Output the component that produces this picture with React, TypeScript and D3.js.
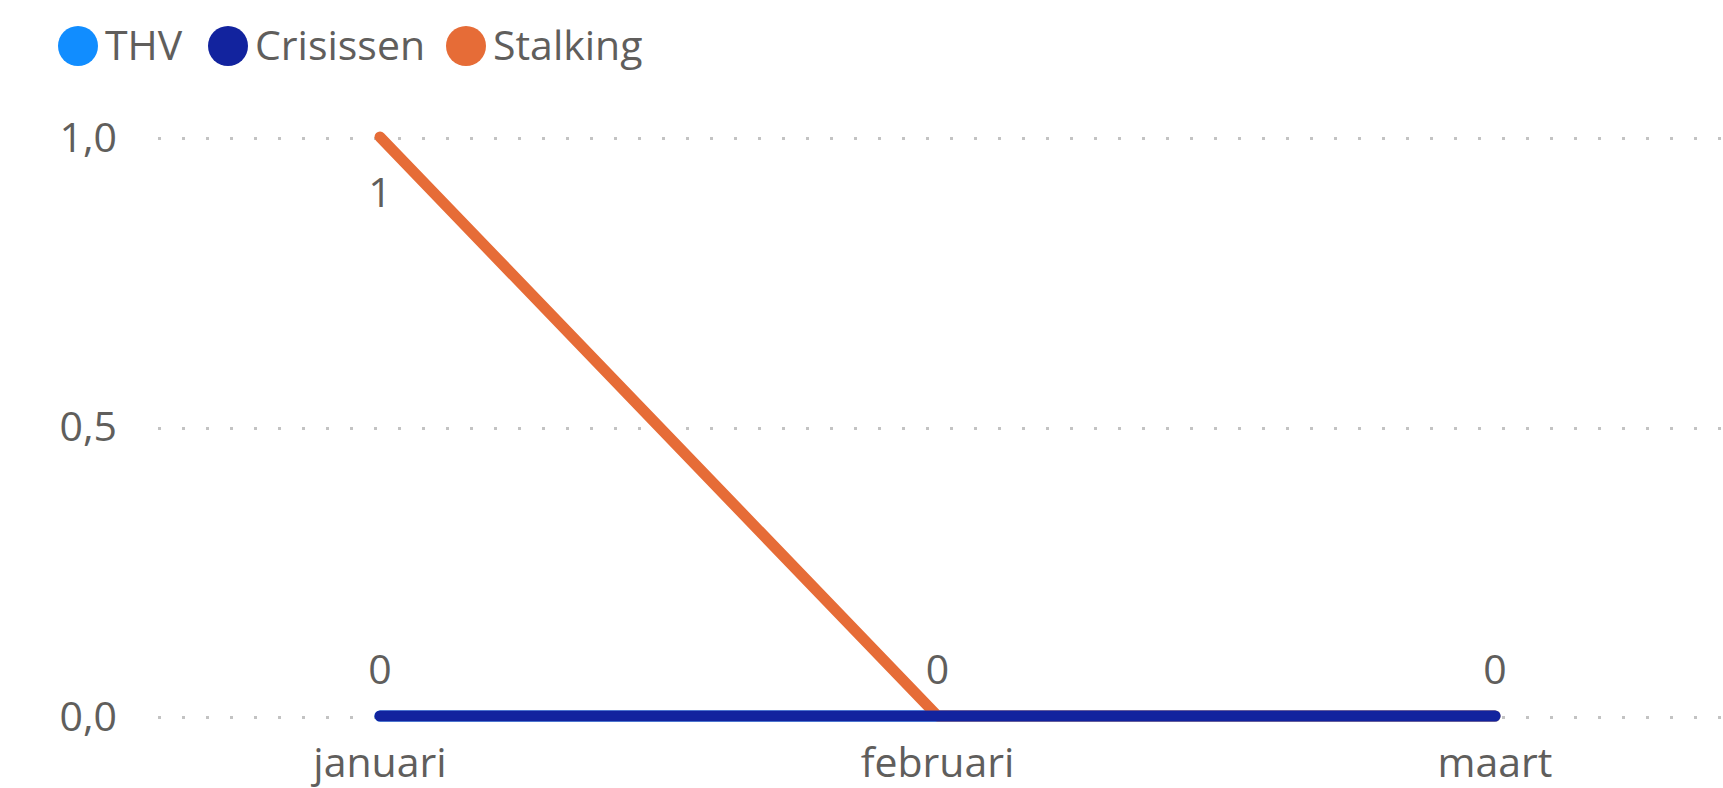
import React from "react";
import * as d3 from "d3";

const months = ["januari", "februari", "maart"];
const thv = [0, 0, 0];
const crisissen = [0, 0, 0];
const stalking = [1, 0, 0];
const yTicks = [0, 0.5, 1];

const seriesNames = ["THV", "Crisissen", "Stalking"];
const colors = ["#118DFF", "#12239E", "#E66C37"];

const W = 1723;
const H = 788;
const FONT = "'Open Sans', 'Segoe UI', sans-serif";
const GREY = "#605E5C";

export default function App() {
  const x = d3.scalePoint<string>().domain(months).range([380, 1495]);
  const y = d3.scaleLinear().domain([0, 1]).range([716, 137]);

  const line = d3
    .line<number>()
    .x((_, i) => x(months[i]) as number)
    .y((d) => y(d));

  // draw order: crisissen last so it sits on top like in the original
  const drawn = [
    { vals: thv, color: colors[0] },
    { vals: stalking, color: colors[2] },
    { vals: crisissen, color: colors[1] },
  ];

  const fmt = (v: number) => v.toFixed(1).replace(".", ",");
  const legendX = [78, 228, 466];

  return (
    <svg
      width={W}
      height={H}
      style={{ position: "fixed", left: 0, top: 0, background: "#fff" }}
      fontFamily={FONT}
    >
      {/* legend */}
      {seriesNames.map((n, i) => (
        <g key={n}>
          <circle cx={legendX[i]} cy={46} r={20} fill={colors[i]} />
          <text x={legendX[i] + 27} y={60} fontSize={41} fill={GREY}>
            {n}
          </text>
        </g>
      ))}

      {/* grid + y axis */}
      {yTicks.map((t) => (
        <g key={t}>
          <line
            x1={158}
            x2={W}
            y1={Math.round(y(t)) + 1.5}
            y2={Math.round(y(t)) + 1.5}
            stroke="#C3C3C3"
            strokeWidth={3}
            strokeDasharray="3 21"
          />
          <text
            x={117}
            y={y(t)}
            dy="0.36em"
            textAnchor="end"
            fontSize={41}
            fill={GREY}
          >
            {fmt(t)}
          </text>
        </g>
      ))}

      {/* lines */}
      {drawn.map((s, i) => (
        <path
          key={i}
          d={line(s.vals) || ""}
          fill="none"
          stroke={s.color}
          strokeWidth={11}
          strokeLinecap="round"
          strokeLinejoin="round"
        />
      ))}

      {/* data labels */}
      <text
        x={x(months[0])}
        y={y(stalking[0]) + 70}
        textAnchor="middle"
        fontSize={41}
        fill={GREY}
      >
        {stalking[0]}
      </text>
      {crisissen.map((v, i) => (
        <text
          key={i}
          x={x(months[i])}
          y={y(v) - 32}
          textAnchor="middle"
          fontSize={41}
          fill={GREY}
        >
          {v}
        </text>
      ))}

      {/* x axis */}
      {months.map((m) => (
        <text
          key={m}
          x={x(m)}
          y={777}
          textAnchor="middle"
          fontSize={41}
          fill={GREY}
        >
          {m}
        </text>
      ))}
    </svg>
  );
}
